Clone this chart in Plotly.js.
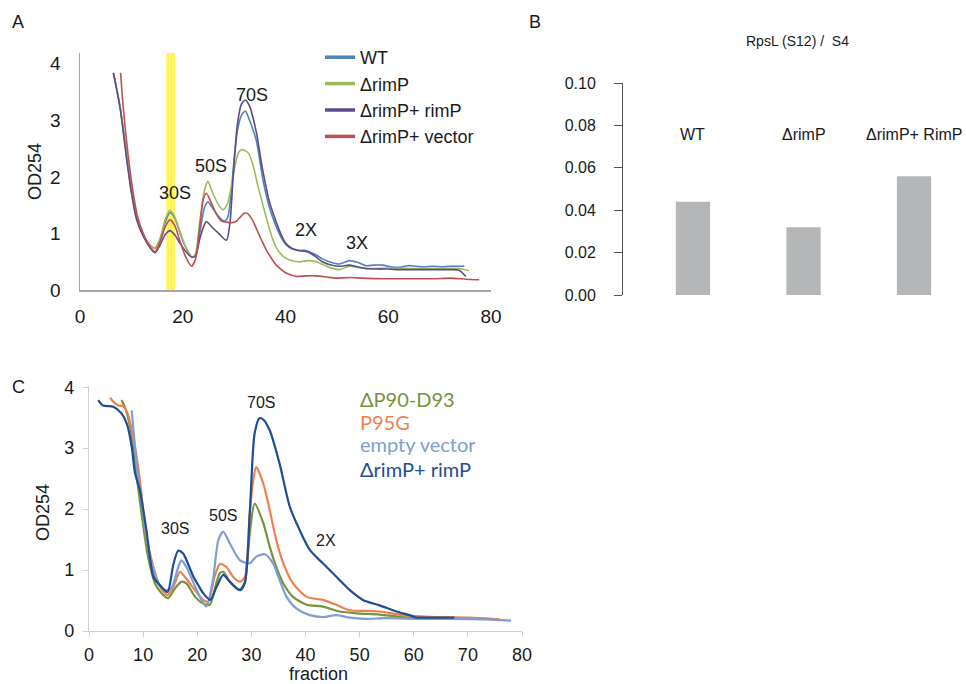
<!DOCTYPE html>
<html>
<head>
<meta charset="utf-8">
<script src="https://cdn.plot.ly/plotly-3.0.1.min.js"></script>
<style>html,body{margin:0;padding:0;background:#fff}#chart{width:966px;height:684px}</style>
</head>
<body>
<div id="chart"></div>
<script>
// ---------- Panel A: sucrose gradient profiles ----------
const aWT_x = [6.5,7.8,9.1,10,11,12.3,13.6,14.6,15.6,16.6,17.5,18.4,19.5,20.6,21.8,22.5,23.3,24.2,24.9,25.8,27,28.2,28.8,29.4,30,30.7,31.5,32.2,33,34.3,35.6,36.9,38.2,39.2,40.1,41.2,42.5,44,45,46,47.2,48.5,50.5,52.4,54,55.7,57.2,58.9,60.5,62.2,63.8,65.4,67,68.7,70.5,72,74.4,74.8];
const aWT_y = [3.84,3.24,2.36,1.77,1.3,0.98,0.8,0.74,0.9,1.2,1.37,1.28,1.0,0.75,0.58,0.62,1.0,1.45,1.56,1.45,1.3,1.22,1.3,1.7,2.3,2.85,3.1,3.16,3.0,2.65,1.95,1.45,1.12,0.92,0.8,0.73,0.7,0.7,0.66,0.62,0.55,0.5,0.46,0.52,0.49,0.43,0.44,0.44,0.41,0.4,0.43,0.42,0.41,0.42,0.41,0.42,0.42,0.43];

const aDel_x = [6.5,7.8,9.1,10,11,12.3,13.6,14.6,15.6,16.6,17.5,18.4,19.5,20.6,21.8,22.5,23.3,24.2,24.9,25.8,27,27.8,28.6,29.4,30.2,30.8,31.4,32.2,32.8,33.7,34.6,35.6,36.5,37.5,38.2,39.5,40.8,42.7,44.5,46,47.5,48.5,50.5,52.4,54,55.7,60,65,70,73.8,75.7];
const aDel_y = [3.84,3.24,2.36,1.77,1.3,0.98,0.8,0.74,0.92,1.25,1.41,1.3,1.02,0.75,0.58,0.65,1.2,1.75,1.92,1.72,1.5,1.42,1.5,1.8,2.2,2.42,2.48,2.46,2.42,2.2,1.85,1.5,1.2,0.9,0.75,0.6,0.53,0.5,0.52,0.5,0.44,0.4,0.36,0.42,0.4,0.38,0.39,0.38,0.38,0.38,0.34];

const aRes_x = [6.5,7.8,9.1,10,11,12.3,13.6,14.6,15.6,16.6,17.5,18.4,19.5,20.6,21.8,22.5,23.3,24.2,24.6,25.8,27,28.5,29.2,29.8,30.6,31.4,32.2,33,34.3,35.6,36.9,38.2,39.2,40.1,41.2,42.5,44,45,46,47.2,48.5,50.5,52.4,54,55.7,58,60,62.2,65,68.7,72,73.8,75.1];
const aRes_y = [3.84,3.22,2.3,1.72,1.25,0.95,0.75,0.66,0.8,0.98,1.05,0.98,0.82,0.68,0.58,0.6,0.9,1.15,1.21,1.1,1.0,0.88,1.2,2.0,2.9,3.28,3.36,3.25,2.8,2.1,1.55,1.2,0.97,0.82,0.74,0.7,0.68,0.64,0.58,0.5,0.45,0.42,0.44,0.41,0.38,0.37,0.37,0.36,0.36,0.36,0.36,0.35,0.24];

const aVec_x = [7.9,8.4,9.4,10.3,11.2,12.4,13.6,14.6,15.6,16.6,17.5,18.4,19.5,20.6,21.7,22.5,23.3,24,24.6,25.5,26.5,27.5,28.5,29.5,30.5,31.3,32,32.6,33.5,34.5,35.5,36.2,37.2,38.2,39.2,40.1,41.2,42.1,44,46,48,49.8,52.4,55,58.9,62,65.4,69,72,75.2,77.7];
const aVec_y = [3.84,3.24,2.36,1.75,1.3,0.98,0.77,0.68,0.85,1.12,1.24,1.15,0.85,0.58,0.42,0.55,1.1,1.6,1.71,1.55,1.35,1.22,1.2,1.19,1.22,1.3,1.36,1.35,1.25,1.05,0.85,0.72,0.57,0.44,0.36,0.3,0.26,0.24,0.25,0.25,0.23,0.21,0.22,0.21,0.2,0.2,0.2,0.2,0.21,0.19,0.18];

const aNames = ["WT", "\u0394rimP", "\u0394rimP+ rimP", "\u0394rimP+ vector"];
const aColors = ["#4f81bd", "#9bbb59", "#5f4b8b", "#c0504d"];
const aPeakLabels = ["30S", "50S", "70S", "2X", "3X"];
const aPeakX = [18.5, 25.5, 33.5, 44, 54];
const aPeakY = [1.71, 2.19, 3.45, 1.06, 0.83];

// ---------- Panel B: RpsL (S12) / S4 ----------
const bCategories = ["WT", "\u0394rimP", "\u0394rimP+ RimP"];
const bValues = [0.044, 0.032, 0.056];
const bTicks = [0, 0.02, 0.04, 0.06, 0.08, 0.10];

// ---------- Panel C: rimP mutants ----------
const cRim_x = [1.7,2.6,4.5,6.0,7.0,7.9,8.5,9.4,10.6,11.9,13.1,14.5,15.6,16.5,17.4,18.3,19.3,20.2,21.1,22.4,23.6,24.8,26,27.9,28.8,29.7,30.6,31.5,32.2,33.4,35.2,37.1,38.9,40.8,43.2,45.7,48.2,50.6,53.7,56.8,59.2,60.5,62,64.1,66,67.5];
const cRim_y = [3.79,3.7,3.68,3.57,3.4,3.02,2.59,2.31,1.66,0.89,0.75,0.64,1.1,1.32,1.27,1.1,0.89,0.75,0.62,0.51,0.73,0.92,0.81,0.67,0.79,1.93,3.24,3.49,3.47,3.29,2.75,2.04,1.66,1.33,1.11,0.89,0.67,0.51,0.42,0.32,0.26,0.22,0.22,0.22,0.22,0.22];

const cP95_x = [3.9,4.5,5.4,6.3,7.2,8.5,9.4,10.6,11.9,13.1,14.5,15.6,16.8,17.7,19.3,21.1,22,23.2,24.2,25.4,26.6,27.9,28.8,29.7,30.3,30.9,32.2,33.4,34.6,35.9,37.7,40.2,43.2,45.7,48.2,51,53.7,58,64.1,70.3,75.8];
const cP95_y = [3.83,3.76,3.7,3.69,3.55,3.02,2.48,1.55,1.05,0.73,0.59,0.73,0.97,0.89,0.7,0.51,0.48,0.89,1.1,1.05,0.89,0.81,0.89,1.93,2.45,2.69,2.42,1.98,1.49,1.11,0.78,0.56,0.51,0.43,0.34,0.33,0.32,0.26,0.23,0.22,0.19];

const cDel_x = [6.0,6.6,7.6,8.5,9.7,10.9,12.2,13.4,14.6,15.9,17.1,18.0,19.6,21.1,22.3,23.6,24.2,24.8,26.0,27.2,27.9,28.8,29.7,30.6,32.2,33.4,34.6,35.9,37.7,40.2,43.2,46.3,49.4,53.7,58,64,70.3,75.8];
const cDel_y = [3.79,3.68,3.35,2.75,1.93,1.22,0.78,0.62,0.54,0.7,0.81,0.78,0.56,0.45,0.43,0.81,0.95,0.97,0.81,0.7,0.68,0.81,1.6,2.09,1.77,1.38,1.05,0.78,0.56,0.43,0.4,0.32,0.29,0.27,0.23,0.22,0.21,0.19];

const cVec_x = [7.9,8.8,10.0,11.3,12.5,14.0,15.2,16.5,17.1,18.0,19.6,20.8,21.7,22.9,23.9,24.8,26.0,27.9,29.7,30.9,32.5,34.0,35.2,36.5,38.3,40.8,43.2,45.7,48.2,51,55,61.2,67.4,73.5,78];
const cVec_y = [3.62,2.75,1.93,1.22,0.84,0.67,0.7,1.05,1.16,1.05,0.73,0.51,0.4,0.84,1.49,1.63,1.44,1.16,1.11,1.22,1.26,1.11,0.84,0.56,0.37,0.26,0.23,0.26,0.22,0.2,0.21,0.2,0.2,0.19,0.17];

const cNames = ["\u0394P90-D93", "P95G", "empty vector", "\u0394rimP+ rimP"];
const cColors = ["#77933c", "#f07f4f", "#7e9fd0", "#1f4e96"];
const cPeakLabels = ["30S", "50S", "70S", "2X"];
const cPeakX = [15.9, 24.7, 31.7, 43.8];
const cPeakY = [1.69, 1.9, 3.75, 1.48];

const FONT = "Liberation Sans, Arial, sans-serif";

const traces = [];
const aX = [aWT_x, aDel_x, aRes_x, aVec_x];
const aY = [aWT_y, aDel_y, aRes_y, aVec_y];
for (let i = 0; i < 4; i++) {
  traces.push({
    type: "scatter", mode: "lines", x: aX[i], y: aY[i], name: aNames[i],
    xaxis: "x", yaxis: "y",
    line: {color: aColors[i], width: 1.6, shape: "spline", smoothing: 0.7},
    showlegend: false, hoverinfo: "skip"
  });
}
// legend-only entries for panel A (thicker key lines, as in the original)
for (let i = 0; i < 4; i++) {
  traces.push({
    type: "scatter", mode: "lines", x: [null], y: [null], name: aNames[i],
    xaxis: "x", yaxis: "y",
    line: {color: aColors[i], width: 3.5},
    showlegend: true, hoverinfo: "skip"
  });
}
traces.push({
  type: "bar", x: bCategories, y: bValues, xaxis: "x2", yaxis: "y2",
  marker: {color: "#b5b6b7"}, width: 0.31, showlegend: false, hoverinfo: "skip"
});
const cX = [cDel_x, cP95_x, cVec_x, cRim_x];
const cY = [cDel_y, cP95_y, cVec_y, cRim_y];
for (let i = 0; i < 4; i++) {
  traces.push({
    type: "scatter", mode: "lines", x: cX[i], y: cY[i], name: cNames[i],
    xaxis: "x3", yaxis: "y3",
    line: {color: cColors[i], width: 2.2, shape: "spline", smoothing: 0.7},
    showlegend: false, hoverinfo: "skip"
  });
}

const W = 966, H = 684;
const px = v => v / W;
const py = v => 1 - v / H;

const annotations = [];
function addText(text, x, y, size, opts) {
  annotations.push(Object.assign({
    text: text, x: x, y: y, xref: "paper", yref: "paper",
    showarrow: false, font: {family: FONT, size: size, color: "#1a1a1a"},
    xanchor: "center", yanchor: "middle"
  }, opts || {}));
}
addText("A", px(18), py(22), 18);
addText("B", px(535), py(22), 18);
addText("C", px(18), py(387), 18);
addText("OD254", px(35), py(172), 18, {textangle: -90});
addText("OD254", px(43), py(513), 18, {textangle: -90});
addText("fraction", px(318), py(674), 18);
addText("RpsL (S12) /  S4", px(797), py(41), 14);

for (let i = 0; i < aPeakLabels.length; i++) {
  annotations.push({text: aPeakLabels[i], x: aPeakX[i], y: aPeakY[i], xref: "x", yref: "y",
    showarrow: false, font: {family: FONT, size: 18, color: "#1a1a1a"}});
}
for (let i = 0; i < bCategories.length; i++) {
  annotations.push({text: bCategories[i], x: bCategories[i], y: 0.0755, xref: "x2", yref: "y2",
    showarrow: false, font: {family: FONT, size: 16, color: "#1a1a1a"}});
}
for (let i = 0; i < cPeakLabels.length; i++) {
  annotations.push({text: cPeakLabels[i], x: cPeakX[i], y: cPeakY[i], xref: "x3", yref: "y3",
    showarrow: false, font: {family: FONT, size: 16, color: "#1a1a1a"}});
}
const cLegY = [399, 422, 444, 469];
for (let i = 0; i < 4; i++) {
  annotations.push({text: cNames[i], x: px(358), y: py(cLegY[i]), xref: "paper", yref: "paper",
    xanchor: "left", yanchor: "middle", showarrow: false,
    font: {family: "Lato, Open Sans, sans-serif", size: 20, color: cColors[i]}});
}

const layout = {
  width: W, height: H,
  margin: {l: 0, r: 0, t: 0, b: 0},
  paper_bgcolor: "#ffffff", plot_bgcolor: "rgba(0,0,0,0)",
  font: {family: FONT, color: "#1a1a1a"},
  showlegend: true,
  legend: {x: px(320), y: py(39), xanchor: "left", yanchor: "top",
    font: {family: FONT, size: 18, color: "#1a1a1a"}, bgcolor: "rgba(0,0,0,0)",
    tracegroupgap: 0, itemwidth: 30, tracegroupgap: 0},
  xaxis: {domain: [px(80), px(491)], anchor: "y", range: [0, 80], tickvals: [0, 20, 40, 60, 80],
    showline: true, linecolor: "#a6a6a6", linewidth: 1.5, ticks: "", showgrid: false, zeroline: false,
    tickfont: {size: 19, color: "#1a1a1a"}, ticklabelstandoff: 9},
  yaxis: {domain: [py(290), py(53)], anchor: "x", range: [0, 4.19], tickvals: [0, 1, 2, 3, 4],
    showline: true, linecolor: "#a6a6a6", linewidth: 1.5, ticks: "", showgrid: false, zeroline: false,
    tickfont: {size: 19, color: "#1a1a1a"}, ticklabelstandoff: 14},
  xaxis2: {domain: [px(623), 1], anchor: "y2", type: "category", range: [-0.633, 2.47],
    showline: false, showticklabels: false, ticks: "", showgrid: false, zeroline: false},
  yaxis2: {domain: [py(295), py(83)], anchor: "x2", range: [0, 0.1], tickvals: bTicks, tickformat: ".2f",
    showline: true, linecolor: "#555555", linewidth: 1, ticks: "outside", ticklen: 8, tickcolor: "#555555",
    showgrid: false, zeroline: false, tickfont: {size: 16, color: "#1a1a1a"}, ticklabelstandoff: 15},
  xaxis3: {domain: [px(89), px(522)], anchor: "y3", range: [0, 80], dtick: 10,
    showline: true, linecolor: "#d0d0d0", linewidth: 1.2, ticks: "outside", ticklen: 5, tickcolor: "#d0d0d0",
    showgrid: false, zeroline: false, tickfont: {size: 18, color: "#1a1a1a"}, ticklabelstandoff: 2},
  yaxis3: {domain: [py(631), py(386)], anchor: "x3", range: [0, 4.02], tickvals: [0, 1, 2, 3, 4],
    showline: true, linecolor: "#d0d0d0", linewidth: 1.2, ticks: "outside", ticklen: 5, tickcolor: "#d0d0d0",
    showgrid: false, zeroline: false, tickfont: {size: 18, color: "#1a1a1a"}, ticklabelstandoff: 5},
  shapes: [{type: "rect", xref: "x", yref: "paper", x0: 16.8, x1: 18.5, y0: py(290), y1: py(53),
    fillcolor: "#fff45c", line: {width: 0}, layer: "below"}],
  annotations: annotations
};

Plotly.newPlot("chart", traces, layout, {staticPlot: true, displayModeBar: false});
</script>
</body>
</html>
